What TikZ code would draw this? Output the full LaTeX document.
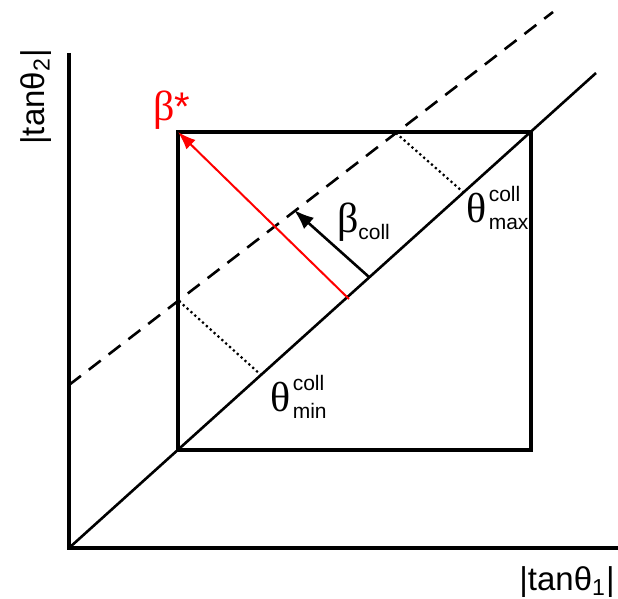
\documentclass[tikz,border=0pt]{standalone}
\usepackage{fontspec}
\setmainfont{Liberation Sans}
\newfontfamily\GreekFont{Liberation Serif}
\usetikzlibrary{arrows.meta,positioning,calc}
\definecolor{Ink}{HTML}{000000}
\definecolor{StarRed}{HTML}{FF0000}
\newcommand{\CollTheta}[4]{%
  \node[grk,anchor=base west] (#1) at (#2,#3) {θ};%
  \node[idx,anchor=base west] (#1sup) at ($(#1.base east)+(1.5,-21)$) {coll};%
  \node[idx,anchor=base west] (#1sub) at ($(#1.base east)+(1.5,7)$) {#4};%
}

\begin{document}
\begin{tikzpicture}[x=0.5pt,y=-0.5pt,
  axis/.style={Ink,line width=1.7pt},
  boxline/.style={Ink,line width=1.6pt},
  diag/.style={Ink,line width=1.3pt},
  idx/.style={inner sep=0pt,font=\fontsize{10.5}{10.5}\selectfont},
  grk/.style={inner sep=0pt,font=\GreekFont\fontsize{21}{21}\selectfont}]
\useasboundingbox (0,0) rectangle (618,599);
% axes
\coordinate (O) at (69,548);
\coordinate (ytop) at (69,53);
\coordinate (xend) at (618,548);
\draw[axis] (ytop) -- (O) -- (xend);
\node[rotate=90,font=\fontsize{16.5}{16.5}\selectfont] (ylbl) at (36,97) {|tanθ\textsubscript{2}|};
\node[font=\fontsize{16.5}{16.5}\selectfont] (xlbl) at (567,582) {|tanθ\textsubscript{1}|};
% box and lines
\coordinate (bl) at (178,450);
\coordinate (tr) at (531,132);
\coordinate (tl) at (178,132);
\draw[boxline] (bl) rectangle (tr);
\coordinate (dend) at (596,73);
\draw[diag] (O) -- (dend);
\coordinate (dsA) at (69,385);
\coordinate (dsB) at (553,12);
\draw[diag,dash pattern=on 7.5pt off 5pt] (dsA) -- (dsB);
% dotted perpendiculars
\coordinate (p1) at (179,301);
\coordinate (q1) at (261,375);
\coordinate (p2) at (396,133);
\coordinate (q2) at (463,192);
\draw[Ink,line width=1.1pt,dash pattern=on 1.1pt off 1.5pt] (p1) -- (q1);
\draw[Ink,line width=1.1pt,dash pattern=on 1.1pt off 1.5pt] (p2) -- (q2);
% arrows
\coordinate (rs) at (349,299);
\draw[StarRed,line width=1pt,-{Latex[length=9pt,width=6.5pt]}] (rs) -- (tl);
\coordinate (bs) at (369,277);
\coordinate (be) at (294,210);
\draw[Ink,line width=1.3pt,-{Latex[length=10pt,width=7.5pt]}] (bs) -- (be);
% labels
\node[anchor=base west,inner sep=0pt,text=StarRed,font=\fontsize{20}{20}\selectfont] (bstar) at (153,121) {{\GreekFont\fontsize{21}{21}\selectfont β}*};
\node[grk,anchor=base west] (bcoll) at (337,233) {β};
\node[idx,anchor=base west] (bcollsub) at (358,240) {coll};
\CollTheta{tmax}{466}{223}{max}
\CollTheta{tmin}{270}{412}{min}
\end{tikzpicture}
\end{document}
